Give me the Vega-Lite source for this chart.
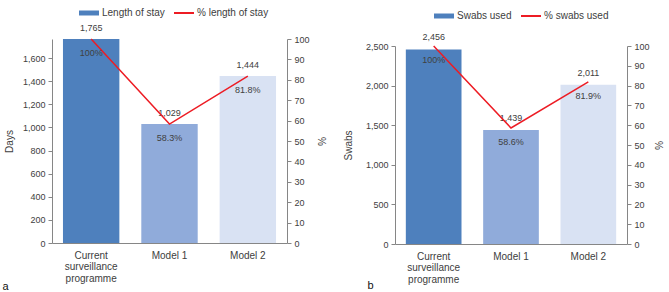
{
  "$schema": "https://vega.github.io/schema/vega-lite/v6.json",
  "background": "white",
  "padding": {"left": 2, "top": 2, "right": 2, "bottom": 0},
  "bounds": "full",
  "spacing": 17,
  "config": {
    "font": "Liberation Sans",
    "view": {"stroke": null},
    "axis": {"domainColor": "#868686", "tickColor": "#868686", "tickSize": 4, "labelColor": "#404040", "labelFontSize": 9, "labelPadding": 3, "labelOverlap": false, "titleColor": "#404040", "titleFontSize": 10, "titleFontWeight": "normal", "grid": false},
    "legend": {"labelFontSize": 10, "labelColor": "#404040", "labelOffset": 2, "padding": 0},
    "title": {"fontSize": 11, "fontWeight": "normal", "color": "#111111"}
  },
  "resolve": {"scale": {"color": "independent", "stroke": "independent"}},
  "hconcat": [
    {
      "width": 235,
      "height": 204,
      "title": {"text": "a", "orient": "bottom", "anchor": "start", "offset": -2, "dx": -2},
      "data": {"values": [
        {"cat": "Current surveillance programme", "value": 1765, "pct": 100, "pctLabel": "100%"},
        {"cat": "Model 1", "value": 1029, "pct": 58.3, "pctLabel": "58.3%"},
        {"cat": "Model 2", "value": 1444, "pct": 81.8, "pctLabel": "81.8%"}
      ]},
      "encoding": {
        "x": {"field": "cat", "type": "nominal", "sort": null, "scale": {"paddingInner": 0.28, "paddingOuter": 0.14},
              "axis": {"title": null, "labelAngle": 0, "ticks": false, "labelPadding": 7, "labelFontSize": 10, "labelLineHeight": 11.5, "labelBaseline": "top",
                       "labelExpr": "datum.value == 'Current surveillance programme' ? ['Current', 'surveillance', 'programme'] : datum.value"}}
      },
      "layer": [
        {"encoding": {
           "y": {"field": "value", "type": "quantitative", "scale": {"domain": [0, 1765], "nice": false},
                 "axis": {"title": "Days", "values": [0, 200, 400, 600, 800, 1000, 1200, 1400, 1600], "format": ",.0f", "titlePadding": 8}}
         },
         "layer": [
          {"mark": {"type": "bar"},
           "encoding": {
             "color": {"field": "cat", "type": "nominal", "sort": null,
                       "scale": {"domain": ["Current surveillance programme", "Model 1", "Model 2"], "range": ["#4e80bd", "#90abda", "#d9e2f3"]},
                       "legend": {"orient": "none", "legendX": 26, "legendY": -37, "values": ["Current surveillance programme"], "labelExpr": "'Length of stay'", "title": null, "symbolType": "M-1,-0.25H1V0.25H-1Z", "symbolSize": 400}}
           }},
          {"mark": {"type": "text", "dy": -11, "fontSize": 9, "color": "#404040"},
           "encoding": {
             "text": {"field": "value", "type": "quantitative", "format": ",.0f"}
           }}
        ]},
        {"encoding": {
           "y": {"field": "pct", "type": "quantitative", "scale": {"domain": [0, 100], "nice": false},
                 "axis": {"orient": "right", "title": "%", "titleAngle": 90, "values": [0, 10, 20, 30, 40, 50, 60, 70, 80, 90, 100], "titlePadding": 6}}
         },
         "layer": [
          {"mark": {"type": "line", "strokeWidth": 1.5},
           "encoding": {
             "stroke": {"datum": "% length of stay", "scale": {"range": ["#ed1c24"]},
                        "legend": {"orient": "none", "legendX": 121, "legendY": -37, "title": null, "symbolType": "stroke", "symbolSize": 400, "symbolStrokeWidth": 2}}
           }},
          {"mark": {"type": "text", "dy": 14, "fontSize": 9, "color": "#404040"},
           "encoding": {
             "text": {"field": "pctLabel", "type": "nominal"}
           }}
        ]}
      ],
      "resolve": {"scale": {"y": "independent"}}
    },
    {
      "width": 232,
      "height": 205,
      "title": {"text": "b", "orient": "bottom", "anchor": "start", "offset": -4, "dx": 24},
      "data": {"values": [
        {"cat": "Current surveillance programme", "value": 2456, "pct": 100, "pctLabel": "100%"},
        {"cat": "Model 1", "value": 1439, "pct": 58.6, "pctLabel": "58.6%"},
        {"cat": "Model 2", "value": 2011, "pct": 81.9, "pctLabel": "81.9%"}
      ]},
      "encoding": {
        "x": {"field": "cat", "type": "nominal", "sort": null, "scale": {"paddingInner": 0.28, "paddingOuter": 0.14},
              "axis": {"title": null, "labelAngle": 0, "ticks": false, "labelPadding": 7, "labelFontSize": 10, "labelLineHeight": 11.5, "labelBaseline": "top",
                       "labelExpr": "datum.value == 'Current surveillance programme' ? ['Current', 'surveillance', 'programme'] : datum.value"}}
      },
      "layer": [
        {"encoding": {
           "y": {"field": "value", "type": "quantitative", "scale": {"domain": [0, 2500], "nice": false, "range": [205, 7]},
                 "axis": {"title": "Swabs", "values": [0, 500, 1000, 1500, 2000, 2500], "format": ",.0f", "titlePadding": 12}}
         },
         "layer": [
          {"mark": {"type": "bar"},
           "encoding": {
             "color": {"field": "cat", "type": "nominal", "sort": null,
                       "scale": {"domain": ["Current surveillance programme", "Model 1", "Model 2"], "range": ["#4e80bd", "#90abda", "#d9e2f3"]},
                       "legend": {"orient": "none", "legendX": 38, "legendY": -34, "values": ["Current surveillance programme"], "labelExpr": "'Swabs used'", "title": null, "symbolType": "M-1,-0.25H1V0.25H-1Z", "symbolSize": 400}}
           }},
          {"mark": {"type": "text", "dy": -12, "fontSize": 9, "color": "#404040"},
           "encoding": {
             "text": {"field": "value", "type": "quantitative", "format": ",.0f"}
           }}
        ]},
        {"encoding": {
           "y": {"field": "pct", "type": "quantitative", "scale": {"domain": [0, 100], "nice": false, "range": [205, 7]},
                 "axis": {"orient": "right", "title": "%", "titleAngle": 90, "values": [0, 10, 20, 30, 40, 50, 60, 70, 80, 90, 100], "titlePadding": 3}}
         },
         "layer": [
          {"mark": {"type": "line", "strokeWidth": 1.5},
           "encoding": {
             "stroke": {"datum": "% swabs used", "scale": {"range": ["#ed1c24"]},
                        "legend": {"orient": "none", "legendX": 125, "legendY": -34, "title": null, "symbolType": "stroke", "symbolSize": 400, "symbolStrokeWidth": 2}}
           }},
          {"mark": {"type": "text", "dy": 14, "fontSize": 9, "color": "#404040"},
           "encoding": {
             "text": {"field": "pctLabel", "type": "nominal"}
           }}
        ]}
      ],
      "resolve": {"scale": {"y": "independent"}}
    }
  ]
}
